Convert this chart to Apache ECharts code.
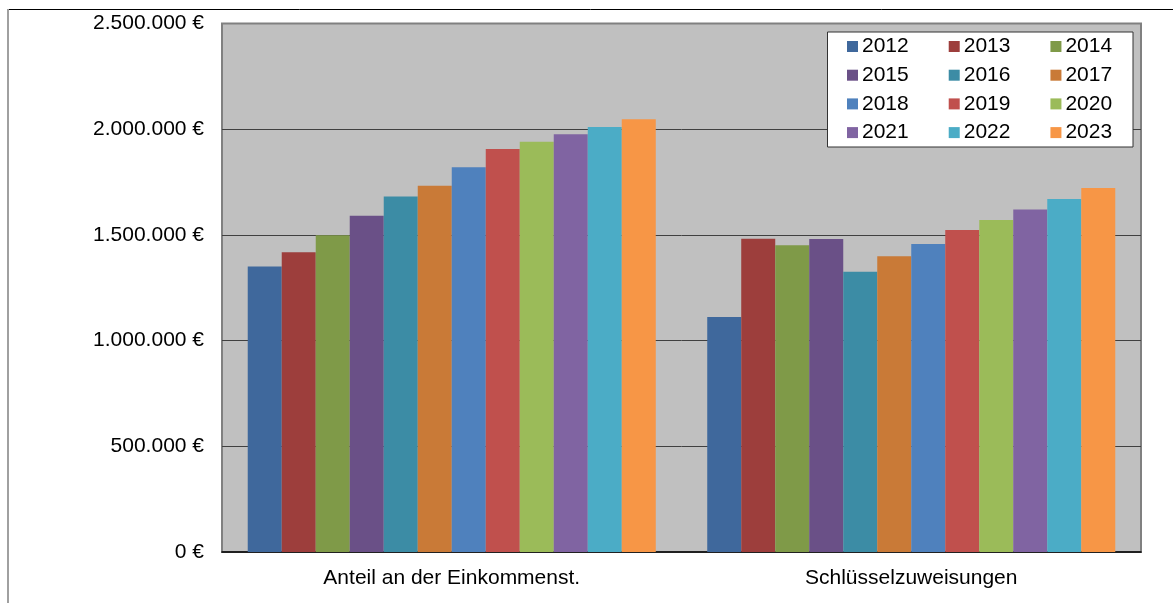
<!DOCTYPE html>
<html>
<head>
<meta charset="utf-8">
<script src="https://cdn.jsdelivr.net/npm/echarts@6/dist/echarts.min.js"></script>
<style>html,body{margin:0;padding:0;background:#fff;}#c{width:1173px;height:603px;}</style>
</head>
<body>
<div id="c"></div>
<script>
var categories = ['Anteil an der Einkommenst.', 'Schlüsselzuweisungen'];
var years = ['2012','2013','2014','2015','2016','2017','2018','2019','2020','2021','2022','2023'];
var einkommensteuer = [1351000, 1418000, 1498000, 1591000, 1682000, 1733000, 1820000, 1906000, 1941000, 1976000, 2010000, 2047000];
var schluesselzuweisungen = [1112000, 1482000, 1451000, 1481000, 1326000, 1399000, 1457000, 1523000, 1570000, 1620000, 1670000, 1722000];
var colors = ['#3f689c','#9d3e3c','#7f9a48','#6a5087','#3c8ca5','#c97a37','#4f81bd','#c0504d','#9bbb59','#8064a2','#4bacc6','#f79646'];
var yTicks = [0, 500000, 1000000, 1500000, 2000000, 2500000];

var FONT = '"Liberation Sans", Arial, sans-serif';
function fmt(v){ return String(v).replace(/\B(?=(\d{3})+(?!\d))/g, '.') + ' €'; }

var series = years.map(function(y, i){
  return {
    name: y, type: 'bar',
    data: [einkommensteuer[i], schluesselzuweisungen[i]],
    itemStyle: { color: colors[i] },
    barGap: '0%', barCategoryGap: '11.2%',
    emphasis: { disabled: true }
  };
});

var legendRows = [];
for (var r = 0; r < 4; r++) {
  legendRows.push({
    data: years.slice(r*3, r*3+3),
    orient: 'horizontal',
    left: 847, top: 36 + r*28.7,
    padding: 0,
    itemWidth: 11, itemHeight: 11, itemGap: 40,
    icon: 'rect',
    selectedMode: false,
    textStyle: { fontFamily: FONT, fontSize: 21, color: '#000', padding: [0,0,0,-1] },
    z: 10
  });
}

var chart = echarts.init(document.getElementById('c'), null, {renderer: 'canvas'});
chart.setOption({
  animation: false,
  color: colors,
  grid: {
    left: 222, right: 32, top: 23.5, bottom: 51,
    show: true, backgroundColor: '#c0c0c0', borderColor: '#808080', borderWidth: 2,
    containLabel: false
  },
  legend: legendRows,
  xAxis: {
    type: 'category', data: categories,
    axisLine: { lineStyle: { color: '#000', width: 1.5 } },
    axisTick: { show: false },
    axisLabel: { fontFamily: FONT, fontSize: 21, color: '#000', margin: 16 }
  },
  yAxis: {
    type: 'value', min: yTicks[0], max: yTicks[yTicks.length-1], interval: yTicks[1]-yTicks[0],
    axisLine: { show: false }, axisTick: { show: false },
    axisLabel: { fontFamily: FONT, fontSize: 21, color: '#000', margin: 18, formatter: fmt },
    splitLine: { lineStyle: { color: ['rgba(0,0,0,0)','#404040','#404040','#404040','#404040','rgba(0,0,0,0)'], width: 1 } }
  },
  graphic: [
    { type: 'line', shape: { x1: 8, y1: 9.5, x2: 1173, y2: 9.5 }, style: { stroke: '#000', lineWidth: 1 }, z: 1 },
    { type: 'line', shape: { x1: 8, y1: 9, x2: 8, y2: 603 }, style: { stroke: '#a0a0a0', lineWidth: 2 }, z: 1 },
    { type: 'rect', shape: { x: 827.5, y: 32, width: 305.5, height: 115 }, style: { fill: '#fff', stroke: '#333', lineWidth: 1 }, z: 5 }
  ],
  series: series
});
</script>
</body>
</html>
